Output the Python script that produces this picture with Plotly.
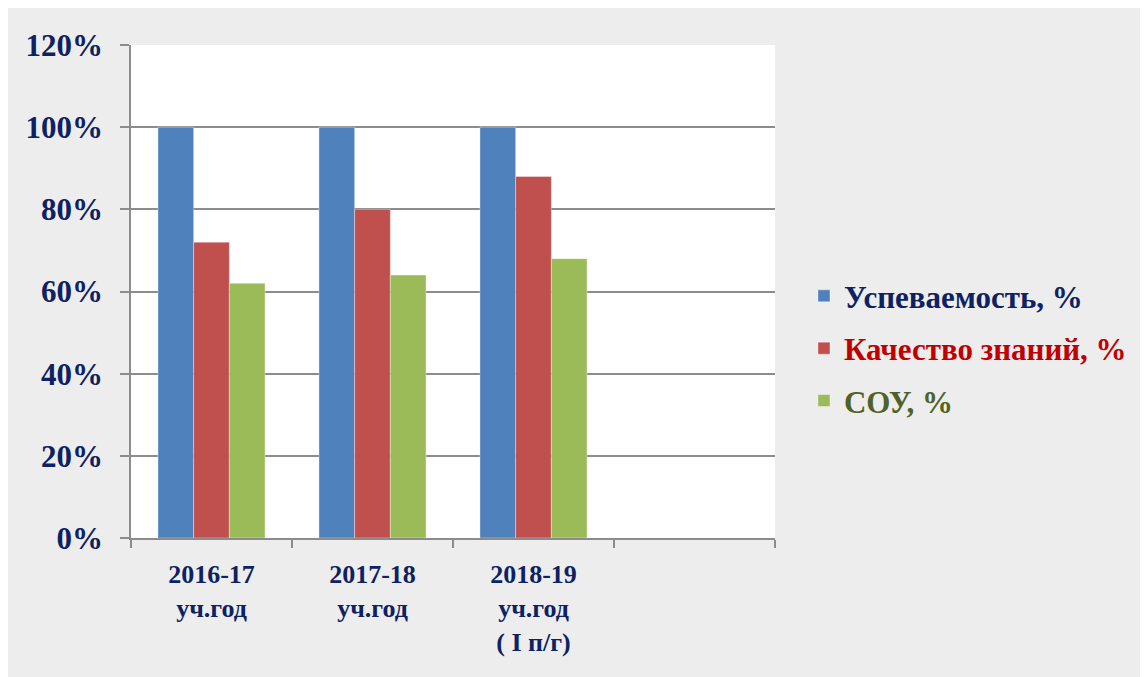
import plotly.graph_objects as go

categories = ["2016-17<br>уч.год", "2017-18<br>уч.год", "2018-19<br>уч.год<br>( I п/г)", " "]
uspevaemost = [1.00, 1.00, 1.00, None]
kachestvo = [0.72, 0.80, 0.88, None]
sou = [0.62, 0.64, 0.68, None]

series = [
    ("Успеваемость, %", uspevaemost, "#4f81bd", "#0d2163"),
    ("Качество знаний, %", kachestvo, "#c0504d", "#c00000"),
    ("СОУ, %", sou, "#9bbb59", "#4f6228"),
]

fig = go.Figure()
for i, (name, vals, col, tcol) in enumerate(series):
    fig.add_trace(go.Bar(
        x=categories, y=vals,
        name=f'<span style="color:{tcol}">{name}</span>',
        marker=dict(color=col, line=dict(color="rgba(255,255,255,0.6)", width=0.6)),
        legendgroup=f"g{i}",
    ))

font_family = "Liberation Serif, Times New Roman, serif"
navy = "#0d2163"

fig.update_layout(
    width=1140, height=669,
    margin=dict(l=123, r=373, t=37, b=139),
    paper_bgcolor="#ededed",
    plot_bgcolor="#ffffff",
    barmode="group",
    bargap=0.335,
    bargroupgap=0,
    font=dict(family=font_family, color=navy),
    legend=dict(
        x=1.045, xanchor="left", y=0.385, yanchor="middle",
        font=dict(family=font_family, size=31, weight="bold"),
        tracegroupgap=9,
        bgcolor="rgba(0,0,0,0)",
    ),
    showlegend=True,
)
fig.update_xaxes(
    showline=True, linecolor="#8c8c8c", linewidth=1.5,
    ticks="outside", tickson="boundaries", ticklen=8, tickcolor="#8c8c8c", tickwidth=1.5,
    tickfont=dict(family=font_family, size=26, color=navy, weight="bold"),
    ticklabelstandoff=12,
    showgrid=False,
)
fig.update_yaxes(
    range=[0, 1.2], dtick=0.2, tickformat=".0%",
    showline=True, linecolor="#8c8c8c", linewidth=1.5,
    ticks="outside", ticklen=9, tickcolor="#8c8c8c", tickwidth=1.5,
    gridcolor="#8c8c8c", gridwidth=1.5,
    tickfont=dict(family=font_family, size=31, color=navy, weight="bold"),
    ticklabelstandoff=11,
    zeroline=False,
)

fig.write_html("out.html")
